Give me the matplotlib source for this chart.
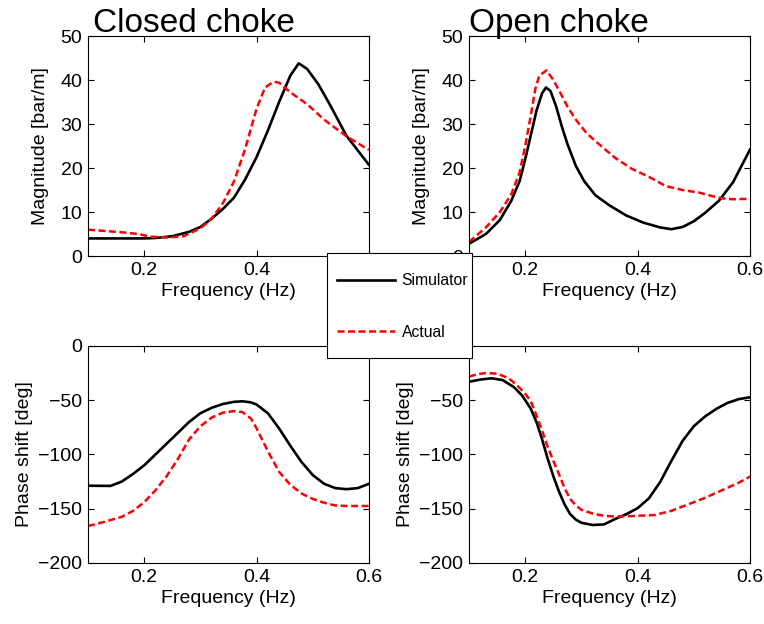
import matplotlib
matplotlib.use("Agg")
import matplotlib.pyplot as plt
from matplotlib.patches import Rectangle

plt.rcParams["font.family"] = ["Liberation Sans", "DejaVu Sans"]

# Closed choke - magnitude
cm_sim_f = [0.10, 0.15, 0.20, 0.22, 0.25, 0.28, 0.30, 0.32, 0.34, 0.36, 0.38, 0.40,
            0.42, 0.44, 0.46, 0.475, 0.49, 0.51, 0.53, 0.56, 0.60]
cm_sim = [4.0, 4.0, 4.0, 4.1, 4.5, 5.5, 6.6, 8.5, 10.7, 13.3, 17.5, 22.5,
          28.5, 35.0, 41.0, 43.8, 42.5, 39.0, 34.5, 27.3, 20.7]
cm_act_f = [0.10, 0.13, 0.16, 0.19, 0.21, 0.24, 0.27, 0.30, 0.32, 0.34, 0.36, 0.38,
            0.40, 0.415, 0.43, 0.44, 0.46, 0.49, 0.52, 0.56, 0.60]
cm_act = [6.0, 5.7, 5.4, 5.0, 4.4, 4.2, 4.5, 6.3, 8.5, 12.0, 17.0, 24.5,
          33.5, 38.3, 39.6, 39.4, 37.2, 34.5, 31.0, 27.2, 24.1]

# Open choke - magnitude
om_sim_f = [0.10, 0.13, 0.155, 0.175, 0.19, 0.20, 0.21, 0.22, 0.23, 0.237, 0.245, 0.255,
            0.265, 0.275, 0.29, 0.305, 0.325, 0.35, 0.38, 0.41, 0.44, 0.46, 0.48, 0.50,
            0.52, 0.545, 0.57, 0.60]
om_sim = [2.8, 5.0, 8.2, 12.5, 17.0, 22.0, 27.5, 33.0, 37.0, 38.3, 37.5, 34.0,
          29.5, 25.5, 20.5, 17.0, 13.8, 11.5, 9.2, 7.6, 6.5, 6.1, 6.6, 7.9,
          9.8, 12.6, 16.8, 24.2]
om_act_f = [0.10, 0.13, 0.155, 0.175, 0.19, 0.20, 0.21, 0.218, 0.225, 0.238, 0.25, 0.262,
            0.275, 0.29, 0.31, 0.335, 0.36, 0.39, 0.42, 0.45, 0.48, 0.51, 0.53, 0.55,
            0.57, 0.60]
om_act = [3.2, 6.5, 10.0, 14.0, 19.0, 25.0, 32.0, 38.0, 41.0, 42.2, 40.0, 37.2,
          34.0, 31.0, 27.8, 25.0, 22.3, 19.8, 18.0, 15.9, 15.0, 14.4, 13.7, 13.1,
          12.9, 13.0]

# Closed choke - phase
cp_sim_f = [0.10, 0.14, 0.16, 0.18, 0.20, 0.22, 0.24, 0.26, 0.28, 0.30, 0.32, 0.34,
            0.36, 0.375, 0.39, 0.40, 0.42, 0.44, 0.46, 0.48, 0.50, 0.52, 0.54, 0.56,
            0.58, 0.60]
cp_sim = [-128.8, -129, -125, -118, -110, -100, -90, -80, -70, -62, -57, -53.5,
          -51.5, -51, -52, -54, -62, -76, -92, -107, -119, -127, -131, -132,
          -131, -127]
cp_act_f = [0.10, 0.13, 0.16, 0.18, 0.20, 0.22, 0.24, 0.26, 0.28, 0.30, 0.32, 0.34,
            0.36, 0.375, 0.39, 0.40, 0.42, 0.44, 0.46, 0.48, 0.50, 0.52, 0.54, 0.56,
            0.60]
cp_act = [-166, -162, -157.5, -152, -144, -133, -120, -104, -86, -74, -66, -61.5,
          -60, -61, -67, -76, -97, -116, -128, -136, -141, -144.5, -147, -147.5,
          -147.5]

# Open choke - phase
op_sim_f = [0.10, 0.12, 0.14, 0.16, 0.18, 0.195, 0.21, 0.22, 0.23, 0.24, 0.25, 0.26,
            0.27, 0.28, 0.29, 0.30, 0.32, 0.34, 0.36, 0.38, 0.40, 0.42, 0.44, 0.46,
            0.48, 0.50, 0.52, 0.54, 0.56, 0.58, 0.60]
op_sim = [-33, -31, -29.8, -31.5, -38, -46, -58, -70, -86, -104, -120, -134,
          -146, -155, -160, -163, -165, -164.5, -159.5, -155, -149.5, -140.5, -125.5, -106,
          -87.5, -74, -65, -58, -52.5, -49, -47.3]
op_act_f = [0.10, 0.115, 0.13, 0.15, 0.17, 0.185, 0.20, 0.21, 0.22, 0.23, 0.24, 0.25,
            0.26, 0.27, 0.28, 0.29, 0.30, 0.32, 0.34, 0.36, 0.38, 0.40, 0.43, 0.46,
            0.49, 0.52, 0.55, 0.58, 0.60]
op_act = [-28.3, -26, -25, -25.5, -29.6, -36, -44, -51, -64, -78, -93, -106,
          -118, -131, -141, -147, -151, -154.5, -156.5, -157.3, -157, -156.5, -155.8, -152,
          -146, -140, -133, -126, -120.4]

fig = plt.figure(figsize=(7.64, 6.24), dpi=100)

ax_cm = fig.add_axes([0.1152, 0.5897, 0.3678, 0.3526])
ax_om = fig.add_axes([0.6139, 0.5897, 0.3678, 0.3526])
ax_cp = fig.add_axes([0.1152, 0.0978, 0.3678, 0.3478])
ax_op = fig.add_axes([0.6139, 0.0978, 0.3678, 0.3478])

sim_style = dict(color="black", lw=1.9)
act_style = dict(color="red", lw=1.8, ls=(0, (2.8, 1.4)))

l1, = ax_cm.plot(cm_sim_f, cm_sim, **sim_style, label="Simulator")
l2, = ax_cm.plot(cm_act_f, cm_act, **act_style, label="Actual")
ax_om.plot(om_sim_f, om_sim, **sim_style)
ax_om.plot(om_act_f, om_act, **act_style)
ax_cp.plot(cp_sim_f, cp_sim, **sim_style)
ax_cp.plot(cp_act_f, cp_act, **act_style)
ax_op.plot(op_sim_f, op_sim, **sim_style)
ax_op.plot(op_act_f, op_act, **act_style)

for ax in [ax_cm, ax_om, ax_cp, ax_op]:
    ax.set_xlim(0.1, 0.6)
    ax.set_xticks([0.2, 0.4, 0.6])
    ax.set_xticklabels(["0.2", "0.4", "0.6"])
    ax.tick_params(direction="in", top=True, right=True, length=4, width=0.8,
                   labelsize=14, pad=4)
    ax.set_xlabel("Frequency (Hz)", fontsize=14, labelpad=3)
    for s in ax.spines.values():
        s.set_linewidth(0.8)

for ax in [ax_cm, ax_om]:
    ax.set_ylim(0, 50)
    ax.set_yticks([0, 10, 20, 30, 40, 50])
    ax.set_ylabel("Magnitude [bar/m]", fontsize=14, labelpad=8)

for ax in [ax_cp, ax_op]:
    ax.set_ylim(-200, 0)
    ax.set_yticks([-200, -150, -100, -50, 0])
    ax.set_ylabel("Phase shift [deg]", fontsize=14, labelpad=4)

ax_cm.set_title("Closed choke", loc="left", fontsize=24, pad=3, x=0.017)
ax_om.set_title("Open choke", loc="left", fontsize=24, pad=3)

# legend box sits between the panels, on top of the axes
box = Rectangle((0.428, 0.4263), 0.1898, 0.1683, transform=fig.transFigure,
                facecolor="white", edgecolor="black", lw=0.8, zorder=4)
fig.add_artist(box)
leg = fig.legend([l1, l2], ["Simulator", "Actual"], loc="center",
                 bbox_to_anchor=(0.5268, 0.5088), fontsize=11.3, frameon=False,
                 handlelength=3.7, labelspacing=2.35, borderpad=0,
                 handletextpad=0.45)
leg.set_zorder(5)

plt.savefig("out.png", dpi=100)
